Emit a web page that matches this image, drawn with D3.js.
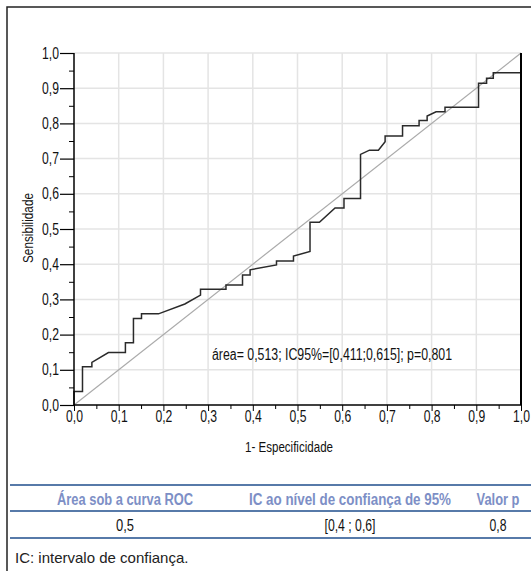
<!DOCTYPE html>
<html>
<head>
<meta charset="utf-8">
<script src="https://cdn.jsdelivr.net/npm/d3@7"></script>
<style>
  body { margin: 0; background: #fff; }
  svg { display: block; }
  text { font-family: "Liberation Sans", Arial, sans-serif; }
</style>
</head>
<body>
<div id="chart"></div>
<script>
// ROC curve points (1 - especificidade, sensibilidade)
const fpr = [0, 0, 0.019, 0.019, 0.04, 0.04, 0.077, 0.115, 0.115, 0.133, 0.133, 0.151, 0.151, 0.189,
  0.248, 0.283, 0.283, 0.340, 0.340, 0.377, 0.377, 0.394, 0.394, 0.453, 0.453, 0.491, 0.491, 0.528,
  0.528, 0.549, 0.584, 0.604, 0.604, 0.641, 0.641, 0.661, 0.681, 0.696, 0.696, 0.735, 0.735, 0.772,
  0.772, 0.790, 0.790, 0.810, 0.830, 0.830, 0.905, 0.905, 0.923, 0.923, 0.938, 0.938, 1, 1];
const tpr = [0, 0.038, 0.038, 0.109, 0.109, 0.121, 0.149, 0.149, 0.177, 0.177, 0.246, 0.246, 0.259, 0.259,
  0.287, 0.312, 0.329, 0.329, 0.341, 0.341, 0.369, 0.369, 0.384, 0.398, 0.409, 0.409, 0.423, 0.436,
  0.519, 0.519, 0.560, 0.560, 0.587, 0.587, 0.712, 0.724, 0.724, 0.748, 0.764, 0.764, 0.793, 0.793,
  0.808, 0.808, 0.821, 0.833, 0.833, 0.846, 0.846, 0.914, 0.914, 0.928, 0.928, 0.944, 0.944, 1];

const majorTicks = [0, 0.1, 0.2, 0.3, 0.4, 0.5, 0.6, 0.7, 0.8, 0.9, 1.0];
const minorTicks = [0.05, 0.15, 0.25, 0.35, 0.45, 0.55, 0.65, 0.75, 0.85, 0.95];

const annotation = "área= 0,513; IC95%=[0,411;0,615]; p=0,801";
const tableHeaders = ["Área sob a curva ROC", "IC ao nível de confiança de 95%", "Valor p"];
const tableValues = ["0,5", "[0,4 ; 0,6]", "0,8"];
const footnote = "IC: intervalo de confiança.";

const W = 531, H = 571;
const plot = {left: 74, right: 521, top: 53, bottom: 405};

const svg = d3.select("#chart").append("svg")
  .attr("width", W).attr("height", H);

const x = d3.scaleLinear().domain([0, 1]).range([plot.left, plot.right]);
const y = d3.scaleLinear().domain([0, 1]).range([plot.bottom, plot.top]);
const fmt = d => d.toFixed(1).replace(".", ",");

// squeeze text horizontally (the original uses a condensed face)
function condense(sel, factor) {
  sel.each(function() {
    const w = this.getComputedTextLength();
    d3.select(this).attr("textLength", w * factor).attr("lengthAdjust", "spacingAndGlyphs");
  });
}

// outer frame (top + left)
svg.append("path")
  .attr("d", `M7,${H} L7,7 L${W},7`)
  .attr("fill", "none").attr("stroke", "#222").attr("stroke-width", 1.5);

// grid
const grid = svg.append("g");
grid.selectAll(".gx").data(majorTicks.slice(1)).join("line")
  .attr("x1", d => x(d)).attr("x2", d => x(d))
  .attr("y1", y(0)).attr("y2", y(1))
  .attr("stroke", "#e4e4e4").attr("stroke-width", 1.5);
grid.selectAll(".gy").data(majorTicks.slice(1)).join("line")
  .attr("x1", x(0)).attr("x2", x(1))
  .attr("y1", d => y(d)).attr("y2", d => y(d))
  .attr("stroke", "#e4e4e4").attr("stroke-width", 1.5);

// diagonal reference
svg.append("line")
  .attr("x1", x(0)).attr("y1", y(0)).attr("x2", x(1)).attr("y2", y(1))
  .attr("stroke", "#aaa").attr("stroke-width", 1.2);

// ROC curve
const pts = fpr.map((f, i) => [f, tpr[i]]);
svg.append("path")
  .datum(pts)
  .attr("d", d3.line().x(d => x(d[0])).y(d => y(d[1])))
  .attr("fill", "none").attr("stroke", "#2a2a2a").attr("stroke-width", 1.5);

// right border at x = 1
svg.append("line")
  .attr("x1", x(1)).attr("x2", x(1)).attr("y1", y(0)).attr("y2", y(1))
  .attr("stroke", "#000").attr("stroke-width", 2);

// y axis
const yAxis = svg.append("g")
  .attr("transform", `translate(${plot.left},0)`)
  .call(d3.axisLeft(y).tickValues(majorTicks).tickSize(14).tickPadding(1).tickFormat(fmt));
svg.append("g")
  .attr("transform", `translate(${plot.left},0)`)
  .call(d3.axisLeft(y).tickValues(minorTicks).tickSize(5).tickFormat(""))
  .call(g => g.select(".domain").remove());
yAxis.select(".domain").attr("d", `M0,${plot.bottom}V${plot.top}`).attr("stroke-width", 1.5);
yAxis.selectAll("text").attr("font-size", 16).attr("fill", "#111")
  .attr("font-family", "Liberation Sans, sans-serif").call(condense, 0.76);
yAxis.selectAll(".tick line").attr("stroke-width", 1.2);

// x axis
const xAxis = svg.append("g")
  .attr("transform", `translate(0,${plot.bottom})`)
  .call(d3.axisBottom(x).tickValues(majorTicks).tickSize(6).tickPadding(0).tickFormat(fmt));
svg.append("g")
  .attr("transform", `translate(0,${plot.bottom})`)
  .call(d3.axisBottom(x).tickValues(minorTicks).tickSize(4).tickFormat(""))
  .call(g => g.select(".domain").remove());
xAxis.select(".domain").attr("d", `M${plot.left},0H${plot.right}`).attr("stroke-width", 1.5);
xAxis.selectAll("text").attr("font-size", 16).attr("fill", "#111")
  .attr("font-family", "Liberation Sans, sans-serif").call(condense, 0.76);
xAxis.selectAll(".tick line").raise();
xAxis.raise();

// axis titles
svg.append("text")
  .attr("transform", "translate(33,228) rotate(-90)")
  .attr("text-anchor", "middle").attr("font-size", 14).attr("fill", "#111")
  .attr("textLength", 70).attr("lengthAdjust", "spacingAndGlyphs")
  .text("Sensibilidade");
svg.append("text")
  .attr("x", 289).attr("y", 452)
  .attr("text-anchor", "middle").attr("font-size", 14).attr("fill", "#111")
  .attr("textLength", 88).attr("lengthAdjust", "spacingAndGlyphs")
  .text("1- Especificidade");

// annotation
svg.append("text")
  .attr("x", 212).attr("y", 360)
  .attr("font-size", 16).attr("fill", "#111")
  .attr("textLength", 240).attr("lengthAdjust", "spacingAndGlyphs")
  .text(annotation);

// table
const lineYs = [485, 511, 538];
svg.selectAll(".tl").data(lineYs).join("line")
  .attr("x1", 10).attr("x2", W).attr("y1", d => d).attr("y2", d => d)
  .attr("stroke", "#1f4e8c").attr("stroke-width", 1.5);

const colX = [125, 350, 498];
const headerLen = [136, 202, 43];
const valueLen = [18, 51, 17];
svg.selectAll(".th").data(tableHeaders).join("text")
  .attr("x", (d, i) => colX[i]).attr("y", 505)
  .attr("text-anchor", "middle").attr("font-size", 16).attr("font-weight", "bold")
  .attr("fill", "#7d8fc6")
  .attr("textLength", (d, i) => headerLen[i]).attr("lengthAdjust", "spacingAndGlyphs")
  .text(d => d);
svg.selectAll(".tv").data(tableValues).join("text")
  .attr("x", (d, i) => colX[i]).attr("y", 531)
  .attr("text-anchor", "middle").attr("font-size", 16).attr("fill", "#111")
  .attr("textLength", (d, i) => valueLen[i]).attr("lengthAdjust", "spacingAndGlyphs")
  .text(d => d);

svg.append("text")
  .attr("x", 15).attr("y", 563)
  .attr("font-size", 15).attr("fill", "#222")
  .text(footnote);
</script>
</body>
</html>
